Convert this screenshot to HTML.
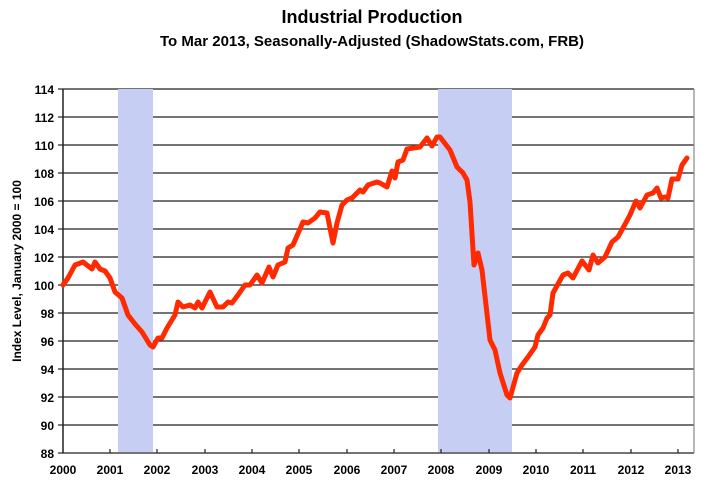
<!DOCTYPE html>
<html><head><meta charset="utf-8"><style>
html,body{margin:0;padding:0;background:#fff;}
svg{display:block;font-family:"Liberation Sans",Arial,sans-serif;font-weight:bold;}
</style></head><body>
<svg width="721" height="500" viewBox="0 0 721 500">
<rect x="0" y="0" width="721" height="500" fill="#fff"/>
<text x="372" y="23" text-anchor="middle" font-size="18">Industrial Production</text>
<text x="372" y="46" text-anchor="middle" font-size="15">To Mar 2013, Seasonally-Adjusted (ShadowStats.com, FRB)</text>
<g stroke="#222" stroke-width="1.3">
<line x1="63" y1="89" x2="694" y2="89"/><line x1="63" y1="117" x2="694" y2="117"/>
<line x1="63" y1="145" x2="694" y2="145"/><line x1="63" y1="173" x2="694" y2="173"/>
<line x1="63" y1="201" x2="694" y2="201"/><line x1="63" y1="229" x2="694" y2="229"/>
<line x1="63" y1="257" x2="694" y2="257"/><line x1="63" y1="285" x2="694" y2="285"/>
<line x1="63" y1="313" x2="694" y2="313"/><line x1="63" y1="341" x2="694" y2="341"/>
<line x1="63" y1="369" x2="694" y2="369"/><line x1="63" y1="397" x2="694" y2="397"/>
<line x1="63" y1="425" x2="694" y2="425"/><line x1="63" y1="453" x2="694" y2="453"/>
</g>
<rect x="118" y="89" width="35" height="363" fill="#c6cef4"/>
<rect x="438" y="89" width="74" height="363" fill="#c6cef4"/>
<line x1="63" y1="89" x2="63" y2="453" stroke="#222" stroke-width="1.5"/>
<line x1="694" y1="89" x2="694" y2="453" stroke="#888" stroke-width="1.2"/>
<g stroke="#222" stroke-width="1.2">
<line x1="58" y1="89" x2="63" y2="89"/><line x1="58" y1="117" x2="63" y2="117"/><line x1="58" y1="145" x2="63" y2="145"/><line x1="58" y1="173" x2="63" y2="173"/><line x1="58" y1="201" x2="63" y2="201"/><line x1="58" y1="229" x2="63" y2="229"/><line x1="58" y1="257" x2="63" y2="257"/><line x1="58" y1="285" x2="63" y2="285"/><line x1="58" y1="313" x2="63" y2="313"/><line x1="58" y1="341" x2="63" y2="341"/><line x1="58" y1="369" x2="63" y2="369"/><line x1="58" y1="397" x2="63" y2="397"/><line x1="58" y1="425" x2="63" y2="425"/><line x1="58" y1="453" x2="63" y2="453"/>
<line x1="110" y1="453" x2="110" y2="449"/><line x1="157" y1="453" x2="157" y2="449"/><line x1="205" y1="453" x2="205" y2="449"/><line x1="252" y1="453" x2="252" y2="449"/><line x1="299" y1="453" x2="299" y2="449"/><line x1="347" y1="453" x2="347" y2="449"/><line x1="394" y1="453" x2="394" y2="449"/><line x1="441" y1="453" x2="441" y2="449"/><line x1="489" y1="453" x2="489" y2="449"/><line x1="536" y1="453" x2="536" y2="449"/><line x1="583" y1="453" x2="583" y2="449"/><line x1="631" y1="453" x2="631" y2="449"/><line x1="678" y1="453" x2="678" y2="449"/>
</g>
<g font-size="12" text-anchor="end">
<text x="54" y="94">114</text><text x="54" y="122">112</text><text x="54" y="150">110</text><text x="54" y="178">108</text><text x="54" y="206">106</text><text x="54" y="234">104</text><text x="54" y="262">102</text><text x="54" y="290">100</text><text x="54" y="318">98</text><text x="54" y="346">96</text><text x="54" y="374">94</text><text x="54" y="402">92</text><text x="54" y="430">90</text><text x="54" y="458">88</text>
</g>
<g font-size="12" text-anchor="middle">
<text x="63" y="474">2000</text><text x="110" y="474">2001</text><text x="157" y="474">2002</text><text x="205" y="474">2003</text><text x="252" y="474">2004</text><text x="299" y="474">2005</text><text x="347" y="474">2006</text><text x="394" y="474">2007</text><text x="441" y="474">2008</text><text x="489" y="474">2009</text><text x="536" y="474">2010</text><text x="583" y="474">2011</text><text x="631" y="474">2012</text><text x="678" y="474">2013</text>
</g>
<text transform="translate(21,271) rotate(-90)" text-anchor="middle" font-size="12">Index Level, January 2000 = 100</text>
<polyline fill="none" stroke="#ff2a00" stroke-width="5" stroke-linejoin="round" stroke-linecap="round" points="
63,285 68,278 75,265 83,262 92,269 95,262 100,269 105,271 110,278 115,292 122,298 128,315 135,324 142,332 150,345 153,347 158,338 162,338 167,328 175,315 178,302 183,307 190,305 195,308 198,302 202,308 210,292 217,307 223,307 228,302 232,303
238,295 245,285 250,285 257,275 262,283 269,267 273,277 278,265 285,262 288,248 293,245 303,222 308,223 315,218 320,212 327,213 333,243 337,223 342,205 347,200 352,198 360,190 363,192 368,185 377,182
380,183 387,187 392,171 395,178 398,162 403,160 407,149 420,147 427,138 432,146 437,137 440,137 450,150 457,167 463,173 467,180 470,202 474,265 478,253 482,270 490,340 495,350 500,373 507,395 510,398 517,373 522,365 528,357 535,347 538,335 543,328 547,318 550,315 553,293
563,275 568,273 573,278 582,261 589,270 593,255 598,263 605,257 612,242 618,237 623,228 630,215 636,201 640,208 647,195 653,193 657,188 661,198 665,197 668,198 672,179 678,179 682,165 687,158"/>
</svg>
</body></html>
